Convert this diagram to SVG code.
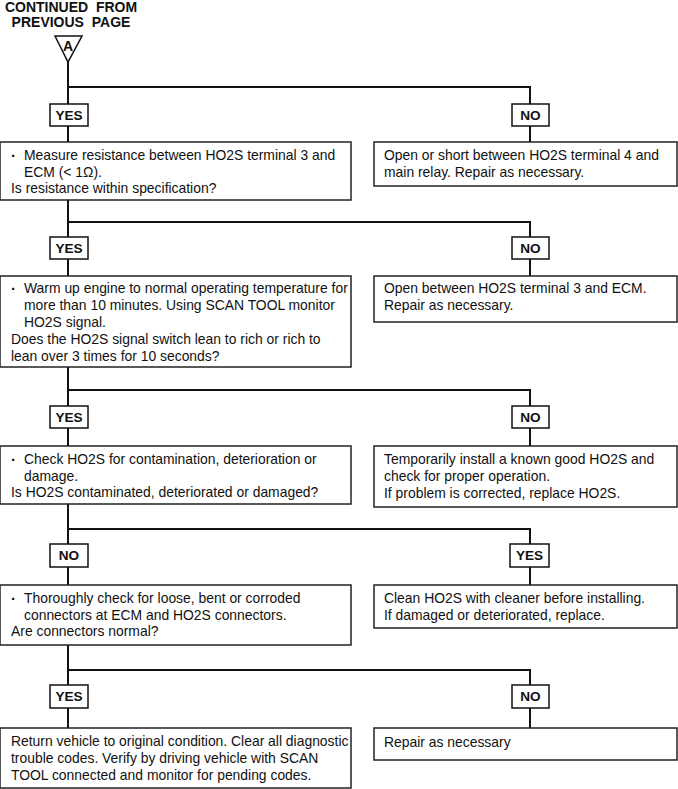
<svg xmlns="http://www.w3.org/2000/svg" width="678" height="789" viewBox="0 0 678 789">
<style>
.bg{fill:#fff}
.box{fill:#fff;stroke:#222;stroke-width:1.5}
.lbl{fill:#fff;stroke:#111;stroke-width:1.5}
.t{font-family:"Liberation Sans",Arial,sans-serif;font-size:13.9px;fill:#111}
.d{font-family:"Liberation Sans",Arial,sans-serif;font-size:15px;font-weight:bold;fill:#111}
.b{font-family:"Liberation Sans",Arial,sans-serif;font-size:13.6px;font-weight:bold;fill:#111}
.h{font-family:"Liberation Sans",Arial,sans-serif;font-size:14px;font-weight:bold;fill:#111}
.c{fill:none;stroke:#111;stroke-width:2}
</style>
<rect class="bg" x="0" y="0" width="678" height="789"/>
<g id="title">
<text class="h" x="71" y="12" text-anchor="middle" xml:space="preserve">CONTINUED  FROM</text>
<text class="h" x="71" y="27" text-anchor="middle" xml:space="preserve">PREVIOUS  PAGE</text>
</g>
<g id="connector-A">
<polygon points="55,36 82,36 68,62" fill="#fff" stroke="#111" stroke-width="1.5"/>
<text class="h" x="68" y="51" text-anchor="middle">A</text>
</g>
<g id="connectors">
<path class="c" d="M68,62V104M68,126V142M68,87H530V104M530,126V142"/>
<path class="c" d="M68,200V237M68,259V276M68,222H530V237M530,259V276"/>
<path class="c" d="M68,367V406M68,428V446M68,390H530V406M530,428V446"/>
<path class="c" d="M68,504V544M68,567V585M68,529H530V544M530,567V585"/>
<path class="c" d="M68,645V685M68,708V728M68,670H530V685M530,708V728"/>
</g>
<g id="l1y"><rect class="lbl" x="50" y="104" width="38" height="22"/><text class="b" x="69" y="120" text-anchor="middle">YES</text></g>
<g id="l1n"><rect class="lbl" x="512" y="104" width="37" height="22"/><text class="b" x="530.5" y="120" text-anchor="middle">NO</text></g>
<g id="n1">
<rect class="box" x="0" y="142" width="351" height="58"/>
<text class="d" x="11" y="161">·</text>
<text class="t" x="24" y="160">Measure resistance between HO2S terminal 3 and</text>
<text class="t" x="24" y="177">ECM (&lt; 1Ω).</text>
<text class="t" x="11" y="193">Is resistance within specification?</text>
</g>
<g id="n1r">
<rect class="box" x="374" y="142" width="303" height="44"/>
<text class="t" x="384" y="160">Open or short between HO2S terminal 4 and</text>
<text class="t" x="384" y="177">main relay. Repair as necessary.</text>
</g>
<g id="l2y"><rect class="lbl" x="50" y="237" width="38" height="22"/><text class="b" x="69" y="253" text-anchor="middle">YES</text></g>
<g id="l2n"><rect class="lbl" x="512" y="237" width="37" height="22"/><text class="b" x="530.5" y="253" text-anchor="middle">NO</text></g>
<g id="n2">
<rect class="box" x="0" y="276" width="351" height="91"/>
<text class="d" x="11" y="294">·</text>
<text class="t" x="24" y="293">Warm up engine to normal operating temperature for</text>
<text class="t" x="24" y="310">more than 10 minutes. Using SCAN TOOL monitor</text>
<text class="t" x="24" y="327">HO2S signal.</text>
<text class="t" x="11" y="344">Does the HO2S signal switch lean to rich or rich to</text>
<text class="t" x="11" y="361">lean over 3 times for 10 seconds?</text>
</g>
<g id="n2r">
<rect class="box" x="374" y="276" width="303" height="46"/>
<text class="t" x="384" y="293">Open between HO2S terminal 3 and ECM.</text>
<text class="t" x="384" y="310">Repair as necessary.</text>
</g>
<g id="l3y"><rect class="lbl" x="50" y="406" width="38" height="22"/><text class="b" x="69" y="422" text-anchor="middle">YES</text></g>
<g id="l3n"><rect class="lbl" x="512" y="406" width="37" height="22"/><text class="b" x="530.5" y="422" text-anchor="middle">NO</text></g>
<g id="n3">
<rect class="box" x="0" y="446" width="351" height="58"/>
<text class="d" x="11" y="465">·</text>
<text class="t" x="24" y="464">Check HO2S for contamination, deterioration or</text>
<text class="t" x="24" y="481">damage.</text>
<text class="t" x="11" y="497">Is HO2S contaminated, deteriorated or damaged?</text>
</g>
<g id="n3r">
<rect class="box" x="374" y="446" width="303" height="61"/>
<text class="t" x="384" y="464">Temporarily install a known good HO2S and</text>
<text class="t" x="384" y="481">check for proper operation.</text>
<text class="t" x="384" y="498">If problem is corrected, replace HO2S.</text>
</g>
<g id="l4n"><rect class="lbl" x="50" y="544" width="38" height="23"/><text class="b" x="69" y="560" text-anchor="middle">NO</text></g>
<g id="l4y"><rect class="lbl" x="510" y="544" width="39" height="23"/><text class="b" x="529.5" y="560" text-anchor="middle">YES</text></g>
<g id="n4">
<rect class="box" x="0" y="585" width="351" height="60"/>
<text class="d" x="11" y="604">·</text>
<text class="t" x="24" y="603">Thoroughly check for loose, bent or corroded</text>
<text class="t" x="24" y="620">connectors at ECM and HO2S connectors.</text>
<text class="t" x="11" y="636">Are connectors normal?</text>
</g>
<g id="n4r">
<rect class="box" x="374" y="585" width="303" height="43"/>
<text class="t" x="384" y="603">Clean HO2S with cleaner before installing.</text>
<text class="t" x="384" y="620">If damaged or deteriorated, replace.</text>
</g>
<g id="l5y"><rect class="lbl" x="50" y="685" width="38" height="23"/><text class="b" x="69" y="701" text-anchor="middle">YES</text></g>
<g id="l5n"><rect class="lbl" x="512" y="685" width="37" height="23"/><text class="b" x="530.5" y="701" text-anchor="middle">NO</text></g>
<g id="n5">
<rect class="box" x="0" y="728" width="351" height="60"/>
<text class="t" x="11" y="746">Return vehicle to original condition. Clear all diagnostic</text>
<text class="t" x="11" y="763">trouble codes. Verify by driving vehicle with SCAN</text>
<text class="t" x="11" y="780">TOOL connected and monitor for pending codes.</text>
</g>
<g id="n5r">
<rect class="box" x="374" y="728" width="303" height="32"/>
<text class="t" x="384" y="747">Repair as necessary</text>
</g>
</svg>
